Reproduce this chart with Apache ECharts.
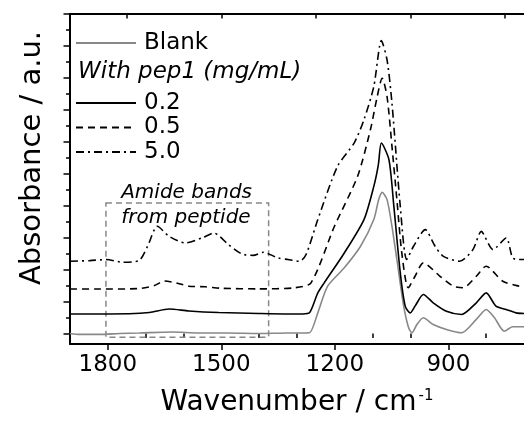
<!DOCTYPE html>
<html>
<head>
<meta charset="utf-8">
<script src="https://cdn.jsdelivr.net/npm/echarts@6/dist/echarts.min.js"></script>
<style>html,body{margin:0;padding:0;background:#fff;}#c{width:524px;height:422px;}</style>
</head>
<body>
<div id="c"></div>
<script>
// ---- data ----
const blankWn = [1900,1874,1822,1769,1717,1630,1560,1481,1402,1324,1285,1267,1245,1219,1175,1132,1097,1084,1075,1062,1049,1036,1018,1005,996,983,966,940,905,865,826,800,778,752,730,711,700];
const blankAbs = [0,-0.06,-0.06,0,0.03,0.09,0.03,0.03,0,0.03,0.03,0.04,1.29,2.96,4.11,5.46,7.13,8.38,8.83,8.38,6.71,4.63,1.71,0.36,0.04,0.56,0.98,0.56,0.25,0.04,0.88,1.5,0.98,0.14,0.42,0.42,0.42];

const p02Wn = [1900,1822,1744,1690,1638,1586,1507,1402,1324,1285,1267,1245,1228,1175,1123,1097,1085,1077,1057,1044,1027,1014,1001,988,966,940,905,865,826,800,774,747,721,700];
const p02Abs = [1.22,1.22,1.23,1.31,1.53,1.41,1.31,1.25,1.22,1.22,1.29,2.54,3.17,5.04,7.13,9.21,10.56,11.92,10.88,7.96,3.79,1.71,1.29,1.71,2.44,1.92,1.39,1.19,1.92,2.54,1.71,1.5,1.29,1.25];

const p05Wn = [1900,1822,1717,1677,1651,1620,1586,1542,1499,1402,1306,1263,1201,1140,1106,1088,1075,1062,1049,1036,1023,1006,988,966,922,887,861,826,800,756,713,700];
const p05Abs = [2.78,2.78,2.81,3.0,3.28,3.17,2.96,2.92,2.83,2.79,2.86,3.17,6.71,9.83,12.75,14.83,15.98,14.83,11.71,8.38,5.04,2.86,3.58,4.42,3.58,2.96,2.86,3.58,4.21,3.27,2.96,2.94];

const p50Wn = [1900,1848,1804,1761,1717,1695,1669,1638,1595,1551,1520,1481,1446,1416,1389,1350,1324,1293,1276,1245,1193,1149,1123,1097,1077,1062,1049,1027,1010,992,961,935,913,870,835,813,782,747,730,713,700];
const p50Abs = [4.52,4.56,4.63,4.46,4.58,5.46,6.71,6.08,5.67,5.98,6.29,5.56,4.98,4.89,5.08,4.73,4.63,4.52,4.94,7.13,10.46,11.92,13.38,15.46,18.33,17.13,14.42,7.96,4.63,5.46,6.5,5.46,4.83,4.52,5.25,6.39,5.25,5.98,4.73,4.63,4.63];

const seriesNames = ['Blank','0.2','0.5','5.0'];
const xLabelValues = [1800,1500,1200,900];
const xMinorValues = [1900,1700,1600,1400,1300,1100,1000,800];
const xTopValues = [1750,1500,1250,1000,750];
const yMajorValues = [0,2,4,6,8,10,12,14,16,18,20];
const yMinorValues = [1,3,5,7,9,11,13,15,17,19];
const boxWn = [1805,1375];
const boxAbs = [-0.23,8.17];
const headerText = 'With pep1 (mg/mL)';
const boxText = 'Amide bands\nfrom peptide';

// ---- chart ----
const FONT = 'DejaVu Sans';
const zip = (a,b) => a.map((v,i)=>[v,b[i]]);
const chart = echarts.init(document.getElementById('c'), null, {renderer:'canvas'});

const baseLine = (name, wn, ab, color, type) => ({
  name, type:'line', data: zip(wn, ab), symbol:'none', smooth:0.25,
  xAxisIndex:0, yAxisIndex:0,
  lineStyle:{color, width:1.6, type},
  itemStyle:{color},
  z: 3
});

const blank = baseLine(seriesNames[0], blankWn, blankAbs, '#888888', 'solid');
blank.markArea = {
  silent:true,
  itemStyle:{color:'rgba(0,0,0,0)', borderColor:'#888888', borderWidth:1.5, borderType:[6,4]},
  label:{show:true, position:'insideTopLeft', offset:[11,-27], formatter: boxText,
    fontFamily:FONT, fontStyle:'italic', fontSize:20, lineHeight:25, color:'#000'},
  data:[[{xAxis:boxWn[0], yAxis:boxAbs[1]},{xAxis:boxWn[1], yAxis:boxAbs[0]}]]
};

const legendText = {fontSize:23, fontFamily:FONT, color:'#000', lineHeight:24, padding:[0,0,0,3]};
const option = {
  animation:false,
  backgroundColor:'#fff',
  grid:{left:70, top:14, width:458, height:330.5, containLabel:false},
  legend:[
    {data:[seriesNames[0]], left:70, top:26, itemWidth:60, itemHeight:14, selectedMode:false,
     itemStyle:{opacity:0}, textStyle:legendText},
    {data:seriesNames.slice(1), orient:'vertical', left:70, top:86, itemWidth:60, itemHeight:14, itemGap:0.5, selectedMode:false,
     itemStyle:{opacity:0}, textStyle:legendText}
  ],
  graphic:[
    {type:'text', left:78, top:61, style:{text:headerText, font:'italic 23px "DejaVu Sans"', fill:'#000'}},
    {type:'text', x:32, y:158, rotation:Math.PI/2, style:{text:'Absorbance / a.u.', font:'29px "DejaVu Sans"', fill:'#000', align:'center', verticalAlign:'middle'}}
  ],
  xAxis:[
    {type:'value', inverse:true, min:700, max:1900, position:'bottom',
     axisLine:{show:true, onZero:false, lineStyle:{color:'#000', width:2}},
     axisTick:{show:true, customValues:xLabelValues, length:6, lineStyle:{color:'#000', width:1.5}},
     axisLabel:{show:true, customValues:xLabelValues, margin:10, fontSize:23, fontFamily:FONT, color:'#000', formatter:v=>String(v)},
     splitLine:{show:false},
     name:'{a|Wavenumber / cm}{s|-1}', nameLocation:'middle', nameGap:45,
     nameTextStyle:{rich:{a:{fontSize:28, fontFamily:FONT, color:'#000'}, s:{fontSize:15, fontFamily:FONT, color:'#000', verticalAlign:'top', padding:[0,0,12,2]}}}
    },
    {type:'value', inverse:true, min:700, max:1900, position:'bottom', gridIndex:0,
     axisLine:{show:false}, axisLabel:{show:false}, splitLine:{show:false},
     axisTick:{show:true, customValues:xMinorValues, length:4.5, lineStyle:{color:'#000', width:1.5}}
    },
    {type:'value', inverse:true, min:700, max:1900, position:'top', gridIndex:0,
     axisLine:{show:true, onZero:false, lineStyle:{color:'#000', width:2}}, axisLabel:{show:false}, splitLine:{show:false},
     axisTick:{show:true, inside:true, customValues:xTopValues, length:4.5, lineStyle:{color:'#000', width:1.5}}
    }
  ],
  yAxis:[
    {type:'value', min:-0.66, max:20, position:'left',
     axisLine:{show:true, onZero:false, lineStyle:{color:'#000', width:2}},
     axisTick:{show:true, customValues:yMajorValues, length:6.5, lineStyle:{color:'#000', width:1.5}},
     axisLabel:{show:false}, splitLine:{show:false}
    },
    {type:'value', min:-0.66, max:20, position:'left', gridIndex:0,
     axisLine:{show:false}, axisLabel:{show:false}, splitLine:{show:false},
     axisTick:{show:true, customValues:yMinorValues, length:4, lineStyle:{color:'#000', width:1.5}}
    }
  ],
  series:[
    blank,
    baseLine(seriesNames[1], p02Wn, p02Abs, '#000000', 'solid'),
    baseLine(seriesNames[2], p05Wn, p05Abs, '#000000', [7,5]),
    baseLine(seriesNames[3], p50Wn, p50Abs, '#000000', [8,4,2,4])
  ]
};
chart.setOption(option);
</script>
</body>
</html>
